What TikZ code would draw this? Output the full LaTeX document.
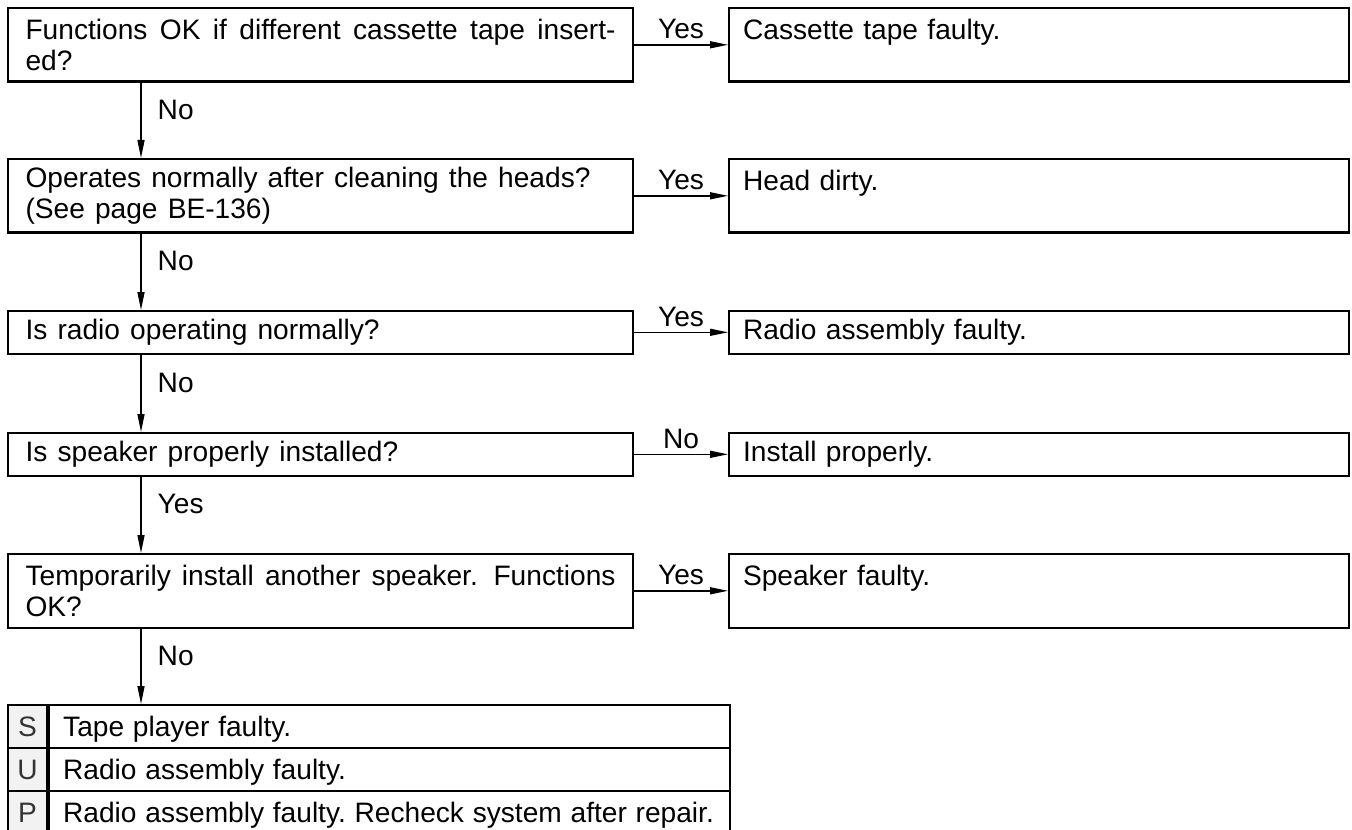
\documentclass[tikz,border=0pt]{standalone}
\usepackage{fontspec}
\setmainfont{Liberation Sans}[WordSpace=1.3]
\usetikzlibrary{arrows.meta,positioning}
\newcommand\rowfont{\frenchspacing\spaceskip=2.5pt plus 0.8pt minus 0.4pt\relax}
\tikzset{
  >={Triangle[length=1.8mm,width=0.7mm]},
  askbox/.style={draw,line width=0.6pt,anchor=north west,text width=5.9cm,inner xsep=0.175cm,inner ysep=0pt,align=justify},
  faultbox/.style={draw,line width=0.6pt,anchor=north west,text width=5.92cm,inner xsep=0.14cm,inner ysep=0pt,align=left},
  twoline/.style={minimum height=0.735cm},
  oneline/.style={minimum height=0.425cm},
  keycell/.style={draw,line width=0.6pt,anchor=north west,fill=gray!10,text=black!80,minimum width=0.39cm,minimum height=0.43cm,inner sep=0pt,text height=6.6pt,text depth=1pt},
  rowcell/.style={draw,line width=0.6pt,text width=6.53cm,inner xsep=0.14cm,inner ysep=0pt,minimum height=0.43cm,align=left,text height=6.6pt,text depth=1pt},
  answer/.style={inner sep=0pt}
}
\begin{document}
\begin{tikzpicture}[font=\fontsize{8}{9}\selectfont,line width=0.4pt]
\useasboundingbox (0,0) rectangle (13.52,-8.29);
% questions
\node[askbox,twoline] (q1) at (0.07,-0.07) {Functions OK if different cassette tape insert-\linebreak ed?};
\node[askbox,twoline] (q2) at (0.07,-1.58) {Operates normally after cleaning the heads?\newline (See page BE-136)};
\node[askbox,oneline] (q3) at (0.07,-3.10) {Is radio operating normally?};
\node[askbox,oneline] (q4) at (0.07,-4.32) {Is speaker properly installed?};
\node[askbox,twoline] (q5) at (0.07,-5.53) {Temporarily install another speaker. Functions\linebreak OK?};
% results
\node[faultbox,twoline] (a1) at (7.28,-0.07) {Cassette tape faulty.\\\mbox{}};
\node[faultbox,twoline] (a2) at (7.28,-1.58) {Head dirty.\\\mbox{}};
\node[faultbox,oneline] (a3) at (7.28,-3.10) {Radio assembly faulty.};
\node[faultbox,oneline] (a4) at (7.28,-4.32) {Install properly.};
\node[faultbox,twoline] (a5) at (7.28,-5.53) {Speaker faulty.\\\mbox{}};
% final table
\foreach \k/\t [count=\i] in {S/Tape player faulty.,U/Radio assembly faulty.,P/Radio assembly faulty. Recheck system after repair.} {
  \node[keycell] (k\i) at ({0.07},{-7.04-0.43*(\i-1)}) {\k};
  \node[rowcell,right=0pt of k\i] (r\i) {\rowfont\t};
}
\coordinate (spine) at (1.41,0);
\foreach \u/\v/\ans in {q1/q2/No,q2/q3/No,q3/q4/No,q4/q5/Yes,q5/r1/No}
  \draw[->] (\u.south -| spine) -- node[answer,pos=0.36,right=0.16cm] (d\u) {\ans} (\v.north -| spine);
\foreach \i/\ans in {1/Yes,2/Yes,3/Yes,4/No,5/Yes}
  \draw[->] (q\i.east) -- node[answer,above=1.4pt] (s\i) {\ans} (a\i.west);
\end{tikzpicture}
\end{document}
